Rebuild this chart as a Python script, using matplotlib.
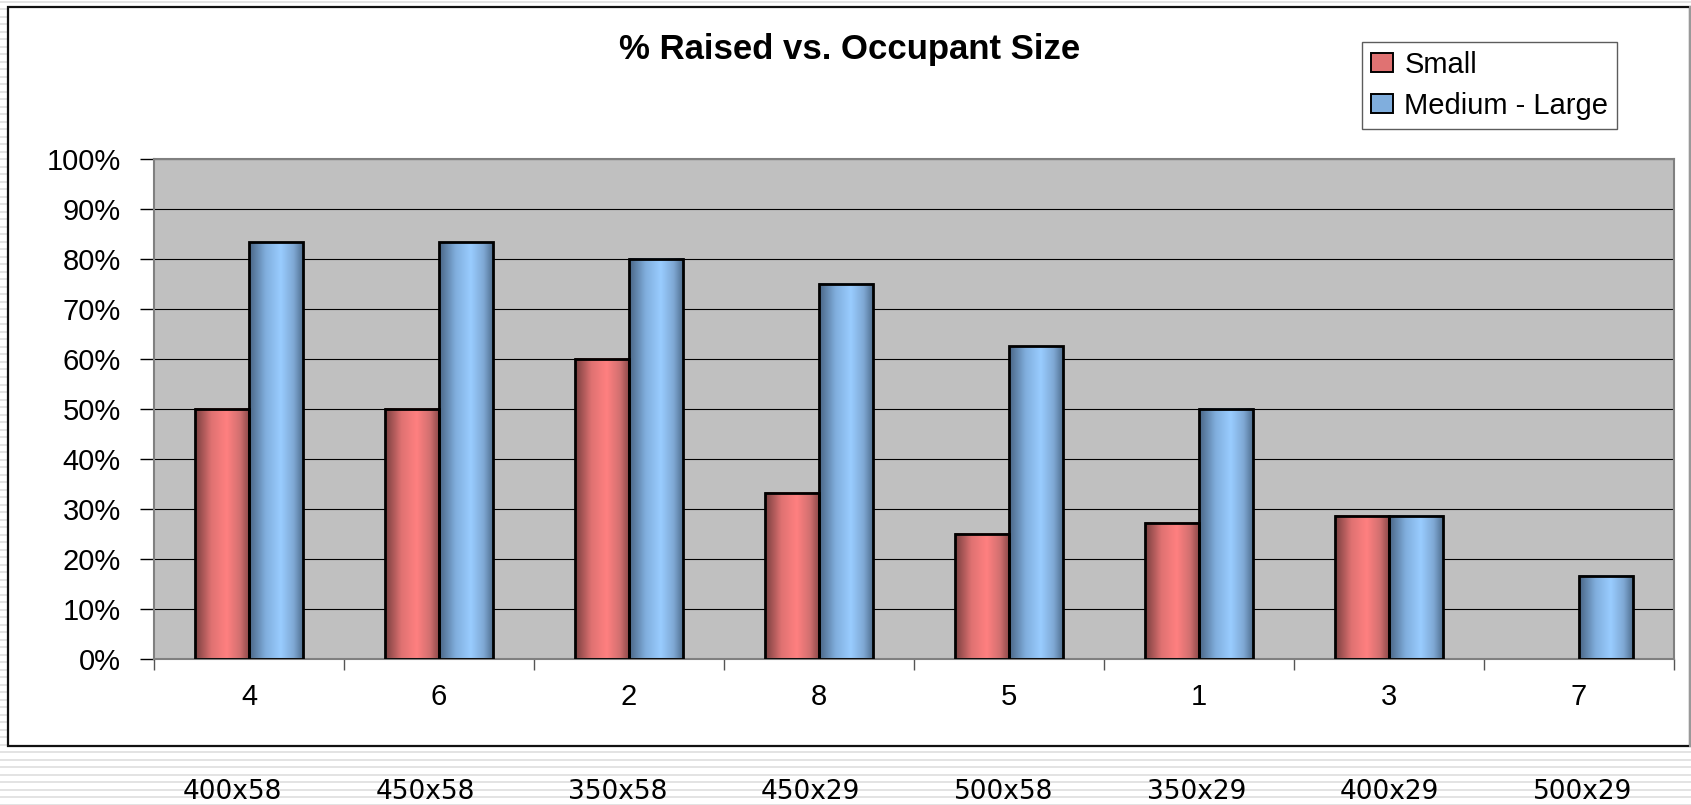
import matplotlib
matplotlib.use('Agg')
import matplotlib.pyplot as plt
import numpy as np
from matplotlib.colors import to_rgb
from matplotlib.patches import Patch, Rectangle

# chart data
categories = ['4', '6', '2', '8', '5', '1', '3', '7']
sizes = ['400x58', '450x58', '350x58', '450x29', '500x58', '350x29', '400x29', '500x29']
small = [50.0, 50.0, 60.0, 33.3, 25.0, 27.3, 28.6, 0.0]
medium_large = [83.3, 83.3, 80.0, 75.0, 62.5, 50.0, 28.6, 16.7]
series_names = ['Small', 'Medium - Large']

W, H = 1691, 805
plt.rcParams['font.family'] = ['Liberation Sans', 'DejaVu Sans']


# horizontal gradient like the old excel cylinder-ish bars
def gradient(stops, colors, n=64):
    t = np.linspace(0, 1, n)
    rgb = np.array([to_rgb(c) for c in colors])
    img = np.stack([np.interp(t, stops, rgb[:, k]) for k in range(3)], axis=-1)
    return img[np.newaxis, :, :]


stops = [0, 0.3, 0.58, 0.82, 1]
red_grad = gradient(stops, ['#7a4040', '#e07272', '#ff8080', '#d27070', '#8a4848'])
blue_grad = gradient(stops, ['#4a6686', '#80aedd', '#99ccff', '#7fa8d4', '#4d6b8c'])

fig = plt.figure(figsize=(W / 100, H / 100), dpi=100)

# background: striped slide + white chart area
bg = fig.add_axes([0, 0, 1, 1])
bg.set_xlim(0, W)
bg.set_ylim(H, 0)
bg.axis('off')
for y in np.arange(2, H, 7.5):
    bg.axhline(y, color='#e3e3e3', lw=1.4, zorder=0)
bg.add_patch(Rectangle((8, 7), 1682, 739, facecolor='white', edgecolor='#111111', lw=1.6, zorder=1))
bg.plot([1690, 1690], [7, 746], color='#999999', lw=1.5, zorder=2)

# size labels under the chart
for i, s in enumerate(sizes):
    bg.text(232 + 192.9 * i, 805, s, ha='center', va='bottom', fontsize=19,
            family='DejaVu Sans', zorder=3)

ax = fig.add_axes([154 / W, 1 - 659 / H, (1674 - 154) / W, (659 - 159) / H])
ax.set_facecolor('#c0c0c0')

x = np.arange(len(categories))
bw = 1 / 3.5
b1 = ax.bar(x - bw / 2, small, bw, facecolor='none', edgecolor='black', lw=2, zorder=3)
b2 = ax.bar(x + bw / 2, medium_large, bw, facecolor='none', edgecolor='black', lw=2, zorder=3)
for bars, grad in [(b1, red_grad), (b2, blue_grad)]:
    for p in bars:
        if p.get_height() > 0:
            ax.imshow(grad, extent=[p.get_x(), p.get_x() + p.get_width(), 0, p.get_height()],
                      aspect='auto', zorder=2, interpolation='bilinear')
        else:
            p.set_visible(False)

ax.set_xlim(-0.5, len(categories) - 0.5)
ax.set_ylim(0, 100)
ax.set_yticks(np.arange(0, 101, 10))
ax.set_yticklabels([f'{v}%' for v in range(0, 101, 10)])
ax.yaxis.grid(True, color='black', lw=0.8)
ax.set_axisbelow(True)

ax.set_xticks(np.arange(-0.5, len(categories)), minor=False)
ax.set_xticklabels([])
ax.set_xticks(x, minor=True)
ax.set_xticklabels(categories, minor=True)
ax.tick_params(axis='x', which='major', length=8, width=1, color='#555555', direction='out')
ax.tick_params(axis='x', which='minor', length=0, pad=17, labelsize=21)
ax.tick_params(axis='y', length=10, width=1, color='black', direction='out', pad=14, labelsize=21)

for sp in ax.spines.values():
    sp.set_color('#808080')
    sp.set_linewidth(1.5)

fig.text(850 / W, 1 - 50 / H, '% Raised vs. Occupant Size', ha='center', va='center',
         fontsize=25, fontweight='bold')

handles = [Patch(facecolor='#e07272', edgecolor='black', lw=1.4),
           Patch(facecolor='#80aedd', edgecolor='black', lw=1.4)]
leg = fig.legend(handles, series_names, loc='upper left',
                 bbox_to_anchor=(1362 / W, 1 - 42 / H), fontsize=21, frameon=True,
                 fancybox=False, edgecolor='#333333', handlelength=0.75, handleheight=0.6,
                 handletextpad=0.4, borderpad=0.3, labelspacing=0.45, borderaxespad=0)
leg.get_frame().set_linewidth(1.0)

fig.savefig('out.png', dpi=100)
